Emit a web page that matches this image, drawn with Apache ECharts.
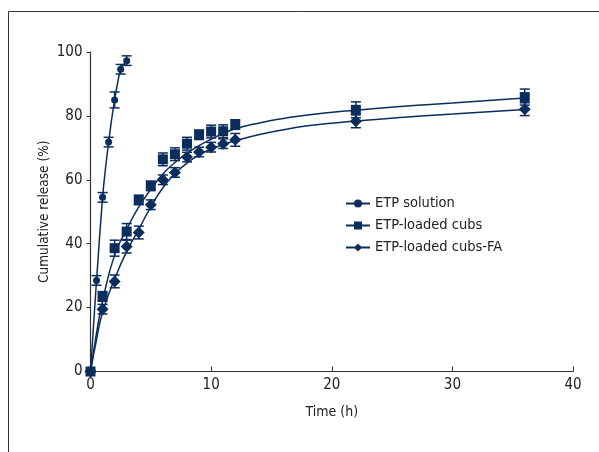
<!DOCTYPE html>
<html><head><meta charset="utf-8">
<script src="https://cdn.jsdelivr.net/npm/echarts@6/dist/echarts.min.js"></script>
<style>html,body{margin:0;padding:0;background:#fff}#c{width:599px;height:452px}</style>
</head><body><div id="c"></div>
<script>
const FONT = '"Liberation Sans Narrow","DejaVu Sans Condensed",sans-serif';
const COLOR = '#0b2d5e';

const seriesNames = ['ETP solution', 'ETP-loaded cubs', 'ETP-loaded cubs-FA'];

// measured points
const solTime = [0, 0.5, 1, 1.5, 2, 2.5, 3];
const solRelease = [0, 28.5, 54.5, 71.8, 85, 94.6, 97.3];
const solErr = [0, 1.5, 1.5, 1.5, 2.5, 1.5, 1.5];

const cubsTime = [0, 1, 2, 3, 4, 5, 6, 7, 8, 9, 10, 11, 12, 22, 36];
const cubsRelease = [0, 23.5, 38.6, 43.8, 53.7, 58.1, 66.4, 68, 71.3, 74.1, 75.1, 75.2, 77.3, 81.9, 85.9];
const cubsErr = [0, 1.5, 2.5, 2.5, 1.5, 1.5, 2, 2, 2, 1.5, 2, 2, 1.5, 2.5, 2.5];

const faTime = [0, 1, 2, 3, 4, 5, 6, 7, 8, 9, 10, 11, 12, 22, 36];
const faRelease = [0, 19.5, 28.2, 39.1, 43.5, 52.2, 60, 62.3, 67.1, 68.7, 70.2, 71.3, 72.5, 78.3, 82.1];
const faErr = [0, 1.5, 2, 2, 2, 1.5, 1.5, 1.5, 1.5, 1.5, 1.5, 1.5, 2, 2, 2];

// fitted curves
const solCurveTime = [0, 0.5, 1, 1.5, 2, 2.5, 3];
const solCurve = [0, 28.5, 54.5, 71.8, 85, 94.6, 97.3];

const cubsCurveTime = [0, 0.5, 1, 2, 3, 4, 5, 6, 7, 8, 9, 10, 11, 12, 14, 16, 18, 22, 26, 30, 36];
const cubsCurve = [0, 12, 22, 36.5, 44.5, 51.5, 57, 61.8, 65.4, 68.3, 70.7, 72.7, 74.5, 76, 77.8, 79.2, 80.3, 81.8, 83, 84, 85.6];

const faCurveTime = [0, 0.5, 1, 2, 3, 4, 5, 6, 7, 8, 9, 10, 11, 12, 14, 16, 18, 22, 26, 30, 36];
const faCurve = [0, 10, 18.5, 29, 37.6, 44.5, 51.5, 57.5, 61.9, 65.2, 67.8, 69.6, 71, 72.2, 74.2, 75.7, 76.9, 78.4, 79.6, 80.6, 82];

const xTicks = [0, 10, 20, 30, 40];
const yTicks = [0, 20, 40, 60, 80, 100];

function pairs(xs, ys) { return xs.map((x, i) => [x, ys[i]]); }
function errData(xs, ys, es) { return xs.map((x, i) => [x, ys[i] - es[i], ys[i] + es[i]]); }

function errSeries(data) {
  return {
    type: 'custom',
    data: data,
    z: 3,
    silent: true,
    renderItem: function (params, api) {
      const x = api.value(0);
      const lo = api.coord([x, api.value(1)]);
      const hi = api.coord([x, api.value(2)]);
      const hw = 5;
      const st = { stroke: COLOR, lineWidth: 1.5 };
      return {
        type: 'group',
        children: [
          { type: 'line', shape: { x1: lo[0], y1: lo[1], x2: hi[0], y2: hi[1] }, style: st },
          { type: 'line', shape: { x1: lo[0] - hw, y1: lo[1], x2: lo[0] + hw, y2: lo[1] }, style: st },
          { type: 'line', shape: { x1: hi[0] - hw, y1: hi[1], x2: hi[0] + hw, y2: hi[1] }, style: st }
        ]
      };
    }
  };
}

function curveSeries(name, xs, ys, sym, size, smooth) {
  return {
    name: name, type: 'line', data: pairs(xs, ys),
    symbol: sym, symbolSize: size, showSymbol: false, smooth: smooth, z: 2,
    itemStyle: { color: COLOR }, lineStyle: { color: COLOR, width: 1.5 }
  };
}
function pointSeries(xs, ys, sym, size) {
  return {
    type: 'scatter', data: pairs(xs, ys), symbol: sym, symbolSize: size, z: 4,
    itemStyle: { color: COLOR, opacity: 1 }
  };
}

const chart = echarts.init(document.getElementById('c'), null, { renderer: 'canvas' });
chart.setOption({
  animation: false,
  backgroundColor: '#fff',
  textStyle: { fontFamily: FONT },
  graphic: [
    { type: 'line', shape: { x1: 8.5, y1: 11.5, x2: 599, y2: 11.5 }, style: { stroke: '#333', lineWidth: 1 } },
    { type: 'line', shape: { x1: 8.5, y1: 11.5, x2: 8.5, y2: 452 }, style: { stroke: '#333', lineWidth: 1 } }
  ],
  grid: { left: 90.5, right: 26, top: 52, bottom: 80.5 },
  legend: {
    orient: 'vertical',
    left: 340, top: 191,
    itemWidth: 24, itemHeight: 10, itemGap: 7,
    textStyle: { fontFamily: FONT, fontSize: 14.5, color: '#222' },
    data: seriesNames
  },
  xAxis: {
    type: 'value', min: 0, max: 40, interval: 10,
    name: 'Time (h)', nameLocation: 'middle', nameGap: 34, nameMoveOverlap: false,
    nameTextStyle: { fontFamily: FONT, fontSize: 14, color: '#222' },
    axisLine: { lineStyle: { color: '#333', width: 1.2 } },
    axisTick: { inside: true, length: 5, lineStyle: { color: '#333' } },
    axisLabel: { fontFamily: FONT, fontSize: 15, color: '#222', margin: 6 },
    splitLine: { show: false }
  },
  yAxis: {
    type: 'value', min: 0, max: 100, interval: 20,
    name: 'Cumulative release (%)', nameLocation: 'middle', nameGap: 39, nameMoveOverlap: false,
    nameTextStyle: { fontFamily: FONT, fontSize: 13.5, color: '#222' },
    axisLine: { show: true, lineStyle: { color: '#333', width: 1.2 } },
    axisTick: { show: true, inside: false, length: 4, lineStyle: { color: '#333' } },
    axisLabel: { fontFamily: FONT, fontSize: 15, color: '#222', margin: 8 },
    splitLine: { show: false }
  },
  series: [
    curveSeries(seriesNames[0], solCurveTime, solCurve, 'circle', 7, 0.2),
    curveSeries(seriesNames[1], cubsCurveTime, cubsCurve, 'rect', 9, true),
    curveSeries(seriesNames[2], faCurveTime, faCurve, 'diamond', 11, true),
    pointSeries(solTime, solRelease, 'circle', 7),
    pointSeries(cubsTime, cubsRelease, 'rect', 10),
    pointSeries(faTime, faRelease, 'diamond', 12),
    errSeries(errData(solTime, solRelease, solErr)),
    errSeries(errData(cubsTime, cubsRelease, cubsErr)),
    errSeries(errData(faTime, faRelease, faErr))
  ]
});
</script></body></html>
